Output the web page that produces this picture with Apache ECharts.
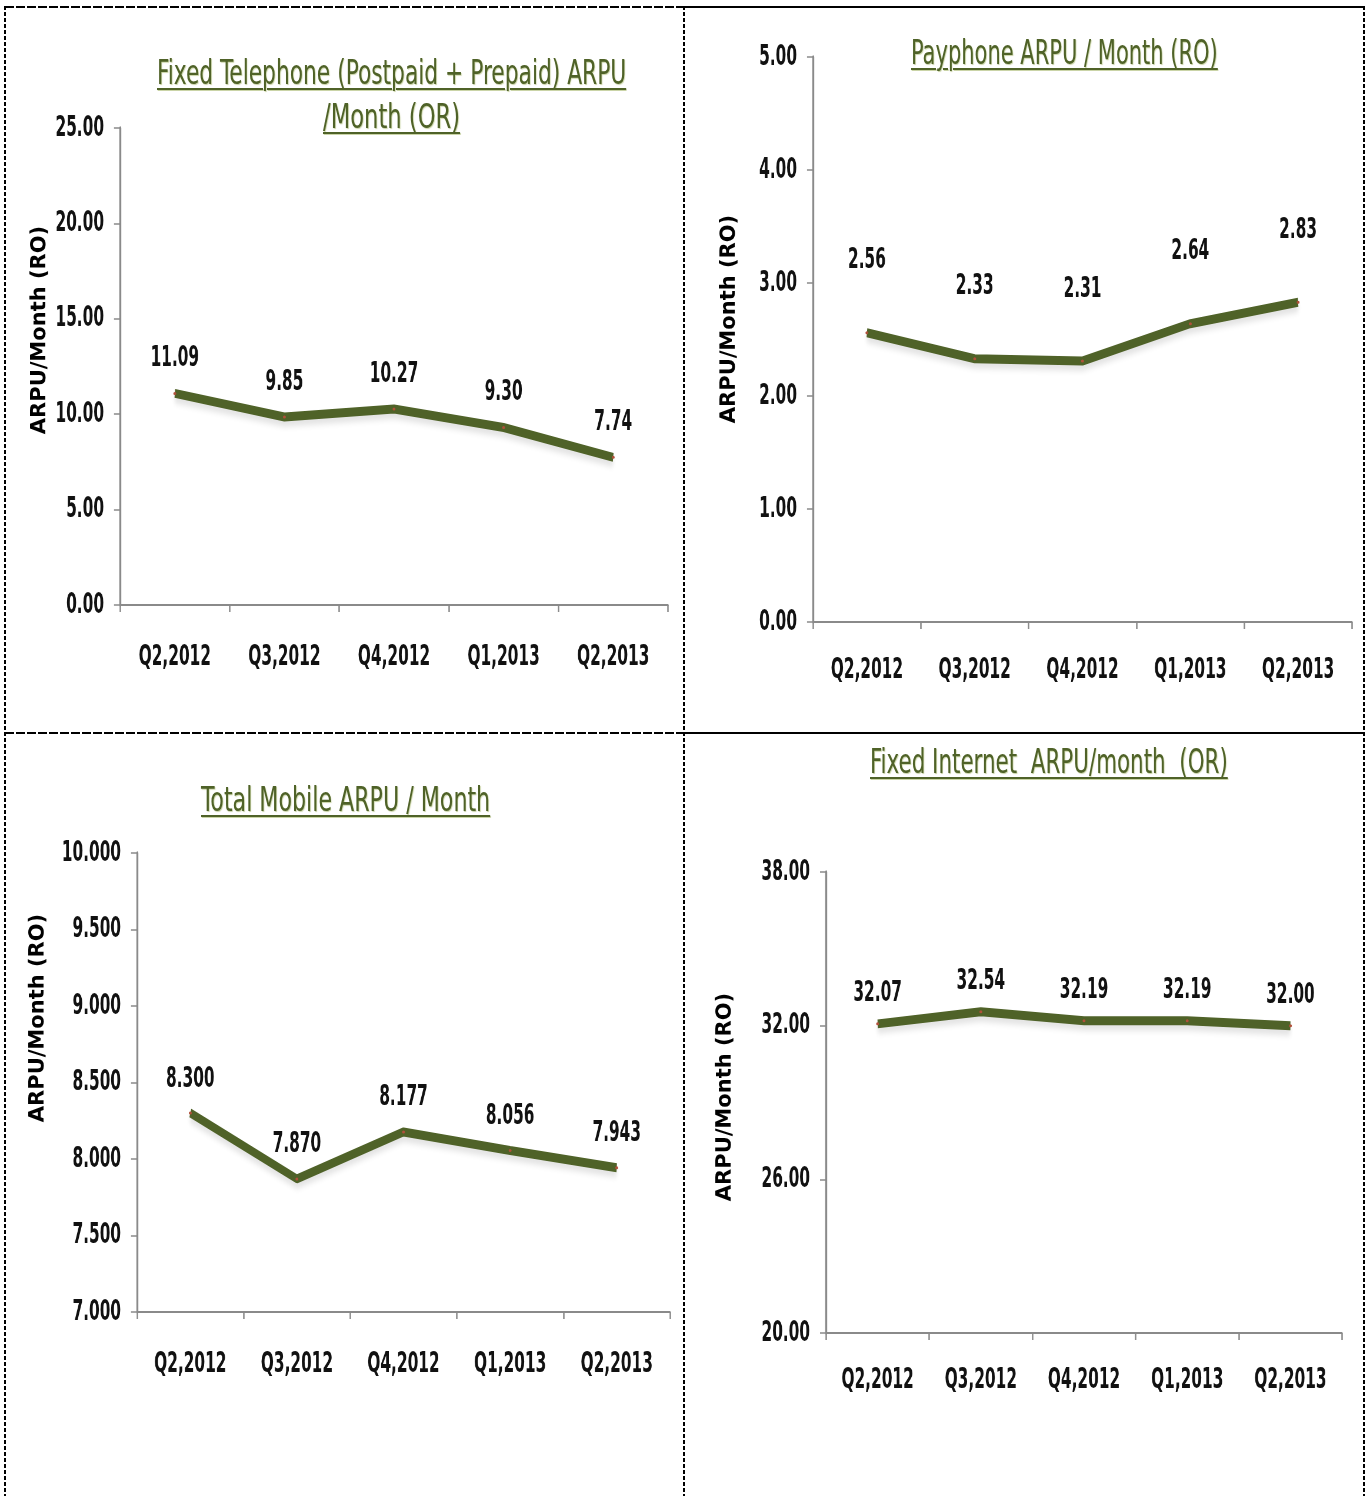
<!DOCTYPE html>
<html>
<head>
<meta charset="utf-8">
<script src="https://cdn.jsdelivr.net/npm/echarts@6.0.0/dist/echarts.min.js"></script>
<style>
  html, body { margin: 0; padding: 0; background: #fff; }
  #wrap { position: relative; width: 1372px; height: 1496px; overflow: hidden; }
  /* the chart is drawn wide and squeezed back, this gives the condensed lettering of the original */
  #chart { position: absolute; left: 0; top: 0; height: 1496px; transform-origin: 0 0; }
  .vline { position: absolute; width: 2px;
    background: repeating-linear-gradient(to bottom, #000 0 4px, transparent 4px 6px); }
  .hdash { position: absolute; height: 2px;
    background: repeating-linear-gradient(to right, #000 0 9px, transparent 9px 11px); }
  .hsolid { position: absolute; height: 2px; background: #000; }
  .title {
    position: absolute; white-space: nowrap;
    font-family: "DejaVu Sans Condensed", sans-serif;
    font-size: 34px; line-height: 44px; color: #4f6228;
    text-decoration: underline; text-decoration-thickness: 2px; text-underline-offset: 4px;
    text-shadow: 1px 1px 1px rgba(150, 170, 80, 0.5);
    transform-origin: 0 0;
  }
</style>
</head>
<body>
<div id="wrap">
  <div id="chart"></div>
  <div class="vline" style="left:4px;top:6px;height:1490px"></div>
  <div class="vline" style="left:683px;top:6px;height:1490px"></div>
  <div class="vline" style="left:1363px;top:6px;height:1490px"></div>
  <div class="hdash" style="left:5px;top:6px;width:679px"></div>
  <div class="hsolid" style="left:685px;top:6px;width:680px"></div>
  <div class="hdash" style="left:5px;top:732px;width:679px"></div>
  <div class="hsolid" style="left:685px;top:732px;width:680px"></div>

  <div class="title" data-left="157" data-width="469" style="top:50px">Fixed Telephone (Postpaid + Prepaid) ARPU</div>
  <div class="title" data-left="323" data-width="137" style="top:94px">/Month (OR)</div>
  <div class="title" data-left="911" data-width="307" style="top:30px">Payphone ARPU / Month (RO)</div>
  <div class="title" data-left="201" data-width="289" style="top:777px">Total Mobile ARPU / Month</div>
  <div class="title" data-left="870" data-width="358" style="top:739px">Fixed Internet&nbsp; ARPU/month&nbsp; (OR)</div>
</div>
<script>
const quarters = ['Q2,2012', 'Q3,2012', 'Q4,2012', 'Q1,2013', 'Q2,2013']

const fixedTelArpu = [11.09, 9.85, 10.27, 9.30, 7.74]
const payphoneArpu = [2.56, 2.33, 2.31, 2.64, 2.83]
const mobileArpu = [8.300, 7.870, 8.177, 8.056, 7.943]
const internetArpu = [32.07, 32.54, 32.19, 32.19, 32.00]

const fixedTelTicks = [0, 5, 10, 15, 20, 25]
const payphoneTicks = [0, 1, 2, 3, 4, 5]
const mobileTicks = [7, 7.5, 8, 8.5, 9, 9.5, 10]
const internetTicks = [20, 26, 32, 38]

const axisName = 'ARPU/Month (RO)'
const font = '"DejaVu Sans Condensed", sans-serif'
const lineColor = '#4f6228'
const axisColor = '#8a8a8a'
const squeeze = 1.7

// squeeze the titles to the width they have in the picture
document.querySelectorAll('.title').forEach((el) => {
  const k = Number(el.dataset.width) / el.offsetWidth
  el.style.left = el.dataset.left + 'px'
  el.style.transform = `scaleX(${k})`
})

// one panel = grid box (page px) + y axis + label spacing
const panels = [
  { data: fixedTelArpu, ticks: fixedTelTicks, decimals: 2, grid: [120, 128, 548, 477], xMargin: 38, labelGap: 19, nameAt: [40, 330] },
  { data: payphoneArpu, ticks: payphoneTicks, decimals: 2, grid: [813, 57, 539, 565], xMargin: 34, labelGap: 56, nameAt: [729, 319] },
  { data: mobileArpu, ticks: mobileTicks, decimals: 3, grid: [137, 853, 533, 459], xMargin: 38, labelGap: 18, nameAt: [38, 1018] },
  { data: internetArpu, ticks: internetTicks, decimals: 2, grid: [826, 872, 516, 461], xMargin: 33, labelGap: 14, nameAt: [725, 1097] }
]

const el = document.getElementById('chart')
el.style.width = 1372 * squeeze + 'px'
el.style.transform = `scaleX(${1 / squeeze})`
const chart = echarts.init(el)

const option = {
  animation: false,
  grid: panels.map((p) => ({
    left: p.grid[0] * squeeze,
    top: p.grid[1],
    width: p.grid[2] * squeeze,
    height: p.grid[3]
  })),
  xAxis: panels.map((p, i) => ({
    type: 'category',
    gridIndex: i,
    data: quarters,
    axisLine: { lineStyle: { color: axisColor, width: 2 } },
    axisTick: { show: true, length: 7, lineStyle: { color: axisColor, width: 1.5 * squeeze } },
    axisLabel: {
      interval: 0,
      hideOverlap: false,
      color: '#111',
      fontFamily: font,
      fontWeight: 'bold',
      fontSize: 29,
      margin: p.xMargin
    }
  })),
  yAxis: panels.map((p, i) => ({
    type: 'value',
    gridIndex: i,
    min: p.ticks[0],
    max: p.ticks[p.ticks.length - 1],
    splitLine: { show: false },
    axisLine: { show: true, lineStyle: { color: axisColor, width: 2 * squeeze } },
    axisTick: { show: true, length: 6 * squeeze, customValues: p.ticks, lineStyle: { color: axisColor, width: 1.5 } },
    axisLabel: {
      customValues: p.ticks,
      color: '#111',
      fontFamily: font,
      fontWeight: 'bold',
      fontSize: 29,
      margin: 16 * squeeze,
      formatter: (v) => Number(v).toFixed(p.decimals)
    }
  })),
  series: panels.map((p, i) => ({
    type: 'line',
    xAxisIndex: i,
    yAxisIndex: i,
    data: p.data,
    symbol: 'circle',
    symbolSize: [3 * squeeze, 3],
    itemStyle: { color: '#b0503a' },
    lineStyle: {
      color: lineColor,
      width: 9,
      shadowColor: 'rgba(0, 0, 0, 0.12)',
      shadowBlur: 6,
      shadowOffsetY: 5
    },
    label: {
      show: true,
      position: 'top',
      distance: p.labelGap,
      color: '#111',
      fontFamily: font,
      fontWeight: 'bold',
      fontSize: 29,
      formatter: (d) => Number(d.value).toFixed(p.decimals)
    }
  })),
  graphic: panels.map((p) => ({
    type: 'text',
    x: p.nameAt[0] * squeeze,
    y: p.nameAt[1],
    rotation: Math.PI / 2,
    scaleY: squeeze,
    style: {
      text: axisName,
      fill: '#000',
      font: 'bold 21px "DejaVu Sans", sans-serif',
      align: 'center',
      verticalAlign: 'middle'
    }
  }))
}

chart.setOption(option)
</script>
</body>
</html>
